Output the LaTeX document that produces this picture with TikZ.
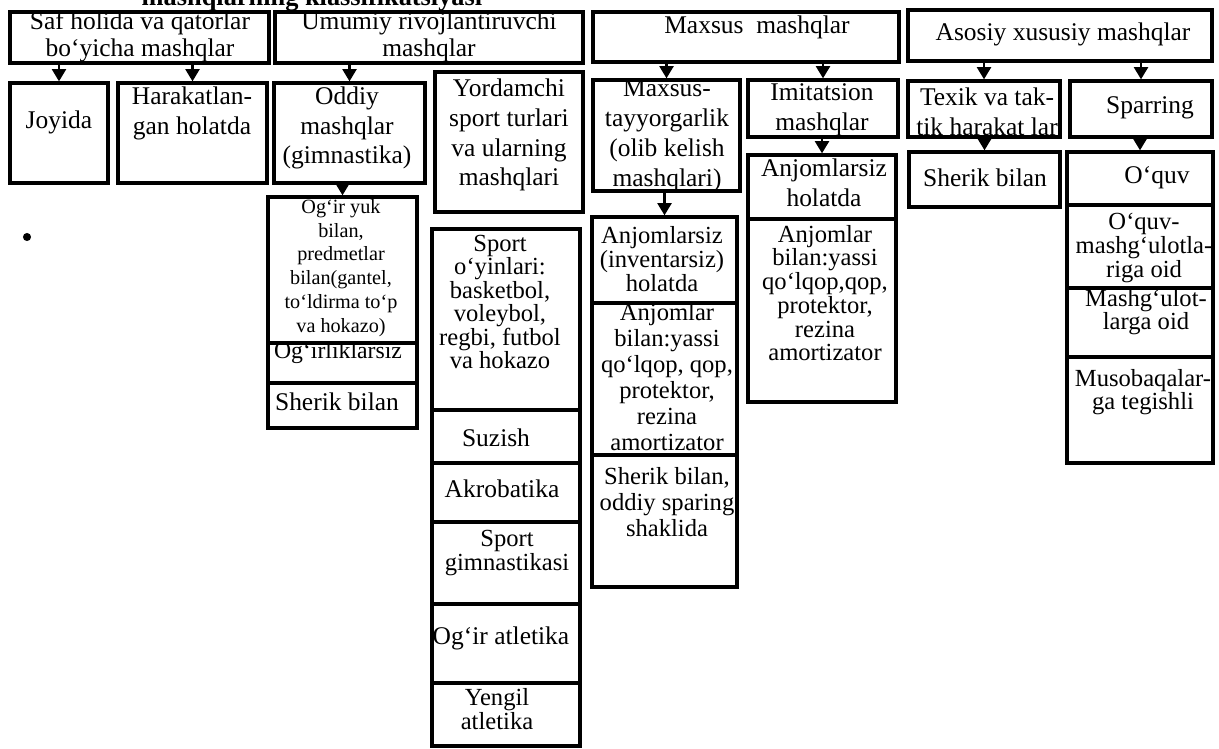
\documentclass[tikz,border=0pt]{standalone}
\usepackage{fontspec}
\setmainfont{Liberation Serif}
\usetikzlibrary{positioning, fit, arrows.meta}

\begin{document}
\begin{tikzpicture}[x=0.02cm, y=-0.02cm,
        box/.style={draw, line width=1.9pt, inner sep=0pt},
        txt/.style={align=center, inner sep=0pt, font=\fontsize{14.5}{17}\selectfont},
        txtt/.style={align=center, inner sep=0pt, font=\fontsize{14}{13.5}\selectfont},
        txts/.style={align=center, inner sep=0pt, font=\fontsize{11.5}{13.6}\selectfont},
        arr/.style={-{Triangle[length=7pt,width=8pt]}, line width=1.4pt}]
        \useasboundingbox (0,0) rectangle (1219,748);
        \clip (0,0) rectangle (1219,748);

        % title, cut at the top edge
        \node[anchor=base, inner sep=0pt, font=\fontsize{15}{17}\bfseries](title) at (312,5){mashqlarning klassifikatsiyasi};

        % top row
        \node[box, fit={(10,12) (269,63)}](saf){};
        \node[box, fit={(275,12) (583,63)}](umum){};
        \node[box, fit={(593,12) (899,62)}](maxs){};
        \node[box, fit={(908,10) (1212,61)}](asos){};
        \node[txt, font=\fontsize{14.5}{15.3}\selectfont](t-saf) at (140,37){Saf holida va qatorlar\\bo`yicha mashqlar};
        \node[txt, font=\fontsize{14.5}{15.3}\selectfont](t-umum) at (429,37){Umumiy rivojlantiruvchi\\mashqlar};
        \node[txt](t-maxs) at (757,27){Maxsus~ mashqlar};
        \node[txt](t-asos) at (1063,34){Asosiy xususiy mashqlar};

        % second row
        \node[box, fit={(10,83) (108,183)}](joy){};
        \node[box, fit={(118,83) (267,183)}](harak){};
        \node[box, fit={(274,83) (425,183)}](oddiy){};
        \node[box, fit={(435,72) (583,212)}](yord){};
        \node[box, fit={(593,80) (740,191)}](mtay){};
        \node[box, fit={(748,80) (898,137)}](imit){};
        \node[box, fit={(908,81) (1060,137)}](texik){};
        \node[box, fit={(1070,81) (1212,137)}](sparr){};
        \node[txt](t-joy) at (59,122){Joyida};
        \node[txt](t-harak) at (192,113){Harakatlan-\\gan holatda};
        \node[txt](t-oddiy) at (347,128){Oddiy\\mashqlar\\(gimnastika)};
        \node[txt](t-yord) at (509,135){Yordamchi\\sport turlari\\va ularning\\mashqlari};
        \node[txt](t-mtay) at (667,136){Maxsus-\\tayyorgarlik\\(olib kelish\\mashqlari)};
        \node[txt](t-imit) at (822,110){Imitatsion\\mashqlar};
        \node[txt](t-texik) at (987,112){Texik va tak-\\tik harakat lar};
        \node[txt](t-sparr) at (1150,108){Sparring};

        % under Oddiy mashqlar
        \node[box, fit={(268,197) (417,343)}](ogyuk){};
        \node[box, fit={(268,343) (417,383)}](ogsiz){};
        \node[box, fit={(268,383) (417,428)}](sherik1){};
        \node[txts](t-ogyuk) at (341,268){Og`ir yuk\\bilan,\\predmetlar\\bilan(gantel,\\to`ldirma to`p\\va hokazo)};
        \node[txt, font=\fontsize{13.5}{15}\selectfont](t-ogsiz) at (338,353){Og`irliklarsiz};
        \node[txt](t-sherik1) at (337,402){Sherik bilan};

        % under Yordamchi sport turlari
        \node[box, fit={(432,229) (580,410)}](sporto){};
        \node[box, fit={(432,410) (580,463)}](suzish){};
        \node[box, fit={(432,463) (580,522)}](akro){};
        \node[box, fit={(432,522) (580,604)}](sgimn){};
        \node[box, fit={(432,604) (580,683)}](ogatl){};
        \node[box, fit={(432,683) (580,746)}](yengil){};
        \node[txtt, font=\fontsize{14}{13.3}\selectfont](t-sporto) at (500,302){Sport\\o`yinlari:\\basketbol,\\voleybol,\\regbi, futbol\\va hokazo};
        \node[txt](t-suzish) at (496,438){Suzish};
        \node[txt](t-akro) at (502,489){Akrobatika};
        \node[txtt](t-sgimn) at (507,553){Sport\\gimnastikasi};
        \node[txt](t-ogatl) at (501,638){Og`ir atletika};
        \node[txtt](t-yengil) at (497,709){Yengil\\atletika};

        % under Maxsus-tayyorgarlik
        \node[box, fit={(592,217) (737,303)}](anjsiz1){};
        \node[box, fit={(592,303) (737,455)}](anjbil1){};
        \node[box, fit={(592,455) (737,587)}](sherik2){};
        \node[txtt](t-anjsiz1) at (662,259){Anjomlarsiz\\(inventarsiz)\\holatda};
        \node[txtt, font=\fontsize{14}{14.8}\selectfont](t-anjbil1) at (667,377){Anjomlar\\bilan:yassi\\qo`lqop, qop,\\protektor,\\rezina\\amortizator};
        \node[txtt, font=\fontsize{14}{15}\selectfont](t-sherik2) at (667,502){Sherik bilan,\\oddiy sparing\\shaklida};

        % under Imitatsion mashqlar
        \node[box, fit={(748,155) (896,219)}](anjsiz2){};
        \node[box, fit={(748,219) (896,402)}](anjbil2){};
        \node[txt](t-anjsiz2) at (824,183){Anjomlarsiz\\holatda};
        \node[txtt](t-anjbil2) at (825,293){Anjomlar\\bilan:yassi\\qo`lqop,qop,\\protektor,\\rezina\\amortizator};

        % under Texik va taktik harakatlar
        \node[box, fit={(909,152) (1060,207)}](sherik3){};
        \node[txt](t-sherik3) at (985,178){Sherik bilan};

        % under Sparring
        \node[box, fit={(1067,152) (1213,205)}](oquv){};
        \node[box, fit={(1067,205) (1213,288)}](oquvm){};
        \node[box, fit={(1067,288) (1213,357)}](mashg){};
        \node[box, fit={(1067,357) (1213,463)}](musob){};
        \node[txt](t-oquv) at (1157,178){O`quv};
        \node[txtt](t-oquvm) at (1144,248){O`quv-\\mashg`ulotla-\\riga oid};
        \node[txtt](t-mashg) at (1146,312){Mashg`ulot-\\larga oid};
        \node[txtt](t-musob) at (1143,392){Musobaqalar-\\ga tegishli};

        \fill (27,237) circle (2.3pt);

        \path[arr]
        (saf.south -| joy.north) edge (joy.north)
        (saf.south -| harak.north) edge (harak.north)
        (umum.south -| oddiy.north) edge (oddiy.north)
        (maxs.south -| mtay.north) edge (mtay.north)
        (maxs.south -| imit.north) edge (imit.north)
        (asos.south -| texik.north) edge (texik.north)
        (asos.south -| sparr.north) edge (sparr.north)
        (oddiy.south -| ogyuk.north) edge (ogyuk.north)
        (mtay.south -| anjsiz1.north) edge (anjsiz1.north)
        (imit.south -| anjsiz2.north) edge (anjsiz2.north)
        (texik.south -| sherik3.north) edge (sherik3.north)
        (sparr.south -| oquv.north) edge (oquv.north);
    \end{tikzpicture}
\end{document}
